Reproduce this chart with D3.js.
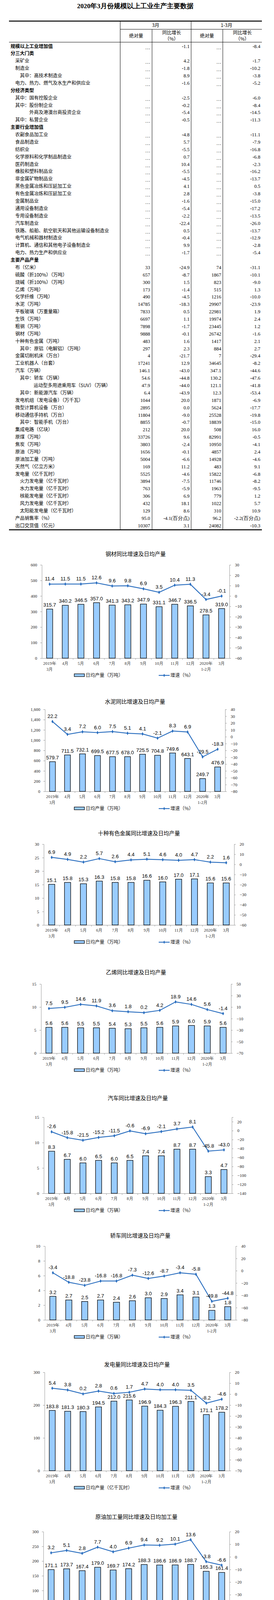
<!DOCTYPE html>
<html><head><meta charset="utf-8">
<script src="https://cdn.jsdelivr.net/npm/d3@7"></script>
<style>
body{margin:0;background:#fff;}
svg text{font-family:"Noto Sans CJK SC",sans-serif;}
.num{font-family:"Liberation Serif",serif;}
</style></head>
<body><svg id="c" width="701" height="4218"></svg>
<script>
// ---- table data ----
var tableRows = [
  // [label, level(0 bold), v1, g1, v2, g2]
  ['规模以上工业增加值',0,'…','-1.1','…','-8.4'],
  ['分三大门类',0,'','','',''],
  ['采矿业',1,'…','4.2','…','-1.7'],
  ['制造业',1,'…','-1.8','…','-10.2'],
  ['其中：高技术制造业',2,'…','8.9','…','-3.8'],
  ['电力、热力、燃气及水生产和供应业',1,'…','-1.6','…','-5.2'],
  ['分经济类型',0,'','','',''],
  ['其中：国有控股企业',1,'…','-2.5','…','-6.0'],
  ['其中：股份制企业',1,'…','-0.2','…','-8.4'],
  ['外商及港澳台商投资企业',3,'…','-5.4','…','-14.5'],
  ['其中：私营企业',1,'…','-0.5','…','-11.3'],
  ['主要行业增加值',0,'','','',''],
  ['农副食品加工业',1,'…','-4.8','…','-11.1'],
  ['食品制造业',1,'…','5.7','…','-7.9'],
  ['纺织业',1,'…','-5.5','…','-16.8'],
  ['化学原料和化学制品制造业',1,'…','0.7','…','-6.8'],
  ['医药制造业',1,'…','10.4','…','-2.3'],
  ['橡胶和塑料制品业',1,'…','-5.5','…','-16.2'],
  ['非金属矿物制品业',1,'…','-4.5','…','-13.7'],
  ['黑色金属冶炼和压延加工业',1,'…','4.1','…','0.5'],
  ['有色金属冶炼和压延加工业',1,'…','2.8','…','-3.8'],
  ['金属制品业',1,'…','-1.6','…','-15.0'],
  ['通用设备制造业',1,'…','-5.4','…','-17.2'],
  ['专用设备制造业',1,'…','-2.2','…','-13.5'],
  ['汽车制造业',1,'…','-22.4','…','-26.0'],
  ['铁路、船舶、航空航天和其他运输设备制造业',1,'…','0.5','…','-13.7'],
  ['电气机械和器材制造业',1,'…','-0.4','…','-12.9'],
  ['计算机、通信和其他电子设备制造业',1,'…','9.9','…','-2.8'],
  ['电力、热力生产和供应业',1,'…','-1.7','…','-5.4'],
  ['主要产品产量',0,'','','',''],
  ['布（亿米）',1,'33','-24.9','74','-31.1'],
  ['硫酸（折100%）（万吨）',1,'657','-8.7','1867','-10.1'],
  ['烧碱（折100%）（万吨）',1,'300','1.5','823','-9.0'],
  ['乙烯（万吨）',1,'173','-1.4','515','1.3'],
  ['化学纤维（万吨）',1,'490','-4.5','1216','-10.0'],
  ['水泥（万吨）',1,'14785','-18.3','29907','-23.9'],
  ['平板玻璃（万重量箱）',1,'7833','0.5','22981','1.9'],
  ['生铁（万吨）',1,'6697','1.1','19974','2.4'],
  ['粗钢（万吨）',1,'7898','-1.7','23445','1.2'],
  ['钢材（万吨）',1,'9888','-0.1','26742','-1.6'],
  ['十种有色金属（万吨）',1,'483','1.6','1417','2.1'],
  ['其中：原铝（电解铝）（万吨）',2,'297','2.3','884','2.7'],
  ['金属切削机床（万台）',1,'4','-21.7','7','-29.4'],
  ['工业机器人（台套）',1,'17241','12.9','34645','-8.2'],
  ['汽车（万辆）',1,'146.1','-43.0','347.1','-44.6'],
  ['其中：轿车（万辆）',2,'54.6','-44.8','130.2','-47.6'],
  ['运动型多用途乘用车（SUV）（万辆）',4,'47.9','-44.0','121.1','-41.8'],
  ['其中：新能源汽车（万辆）',2,'6.4','-43.9','12.3','-53.4'],
  ['发电机组（发电设备）（万千瓦）',1,'1044','20.0','1871','-6.9'],
  ['微型计算机设备（万台）',1,'2895','0.0','5624','-17.7'],
  ['移动通信手持机（万台）',1,'11804','-9.0','25528','-19.8'],
  ['其中：智能手机（万台）',2,'8855','-0.7','18839','-15.0'],
  ['集成电路（亿块）',1,'212','20.0','508','16.0'],
  ['原煤（万吨）',1,'33726','9.6','82991','-0.5'],
  ['焦炭（万吨）',1,'3803','-2.4','10950','-4.1'],
  ['原油（万吨）',1,'1656','-0.1','4857','2.4'],
  ['原油加工量（万吨）',1,'5004','-6.6','14928','-4.6'],
  ['天然气（亿立方米）',1,'169','11.2','483','9.1'],
  ['发电量（亿千瓦时）',1,'5525','-4.6','15822','-6.8'],
  ['火力发电量（亿千瓦时）',2,'3894','-7.5','11746','-8.2'],
  ['水力发电量（亿千瓦时）',2,'763','-5.9','1963','-9.5'],
  ['核能发电量（亿千瓦时）',2,'306','6.9','779','1.2'],
  ['风力发电量（亿千瓦时）',2,'432','18.1','1022','5.7'],
  ['太阳能发电量（亿千瓦时）',2,'129','8.6','310','10.9'],
  ['产品销售率（%）',1,'95.0','-4.1(百分点)','96.2','-2.2(百分点)'],
  ['出口交货值（亿元）',1,'10307','3.1','24082','-10.3']
];

// ---- chart data ----
var months = ['2019年|3月','4月','5月','6月','7月','8月','9月','10月','11月','12月','2020年|1-2月','3月'];
var steelDaily = [315.7,340.2,346.5,357.0,341.3,343.2,347.9,331.1,346.7,336.5,278.5,319.0];
var steelGrowth = [11.4,11.5,11.5,12.6,9.6,9.8,6.9,3.5,10.4,11.3,-3.4,-0.1];
var cementDaily = [579.7,711.5,732.1,699.5,677.5,678.0,725.5,704.8,749.6,643.1,249.7,476.9];
var cementGrowth = [22.2,3.4,7.2,6.0,7.5,5.1,4.1,-2.1,8.3,6.9,-29.5,-18.3];
var metalDaily = [15.1,15.8,15.3,16.3,15.8,15.8,16.6,16.0,17.0,17.1,15.6,15.6];
var metalGrowth = [6.9,4.9,2.2,5.7,2.6,4.4,5.1,4.6,4.0,4.7,2.2,1.6];
var ethyDaily = [5.6,5.6,5.5,5.5,5.4,5.3,5.5,5.6,5.9,6.0,5.9,5.6];
var ethyGrowth = [7.5,9.5,14.6,11.9,3.6,1.8,0.2,4.2,18.9,14.6,5.6,-1.4];
var carDaily = [8.3,6.7,6.0,6.5,6.0,6.5,7.4,7.4,8.7,8.7,3.3,4.7];
var carGrowth = [-2.6,-15.8,-21.5,-15.2,-11.5,-0.6,-6.9,-2.1,3.7,8.1,-45.8,-43.0];
var sedanDaily = [3.2,2.7,2.5,2.7,2.4,2.6,3.0,2.9,3.4,3.1,1.3,1.8];
var sedanGrowth = [-3.4,-18.8,-23.8,-16.8,-16.8,-7.3,-12.6,-8.7,-3.4,-5.8,-49.8,-44.8];
var powerDaily = [183.8,181.3,180.3,194.5,212.0,215.6,196.9,184.3,196.3,211.1,171.1,178.2];
var powerGrowth = [5.4,3.8,0.2,2.8,0.6,1.7,4.7,4.0,4.0,3.5,-8.2,-4.6];
var crudeDaily = [171.1,173.7,167.4,179.0,169.7,174.2,188.3,186.6,186.9,188.7,165.3,161.4];
var crudeGrowth = [3.2,5.1,2.8,7.7,4.0,6.9,9.4,9.2,10.1,13.6,-3.8,-6.6];

var svg = d3.select('#c');
svg.append('rect').attr('width',701).attr('height',4218).attr('fill','#fff');

// ---- table ----
svg.append('text').attr('x',346).attr('y',21).attr('text-anchor','middle')
  .attr('class','num').style('font-weight','bold').style('font-size','17px')
  .text('2020年3月份规模以上工业生产主要数据');

var cols = [23,307.5,389,489,570,670];
var rowTop = 108, pitch = 18.88;
var rowY = function (i) { return 118 + i * pitch; };
var tEnd = rowY(tableRows.length - 1) + 11;
svg.append('line').attr('x1',cols[0]).attr('x2',cols[5]).attr('y1',54).attr('y2',54).attr('stroke','#000').attr('stroke-width',2.5);
svg.append('line').attr('x1',cols[0]).attr('x2',cols[5]).attr('y1',tEnd).attr('y2',tEnd).attr('stroke','#000').attr('stroke-width',2.5);
svg.append('line').attr('x1',cols[0]).attr('x2',cols[5]).attr('y1',rowTop).attr('y2',rowTop).attr('stroke','#000').attr('stroke-width',1);
svg.append('line').attr('x1',cols[1]).attr('x2',cols[5]).attr('y1',75).attr('y2',75).attr('stroke','#000').attr('stroke-width',1);
[1,2,3,4].forEach(function (k) {
  svg.append('line').attr('x1',cols[k]).attr('x2',cols[k])
    .attr('y1',k === 2 || k === 4 ? 75 : 55).attr('y2',tEnd).attr('stroke','#000').attr('stroke-width',1);
});
function hdr(x, y, t) {
  svg.append('text').attr('x',x).attr('y',y).attr('text-anchor','middle').style('font-size','12px').text(t);
}
hdr((cols[1]+cols[3])/2, 69, '3月');
hdr((cols[3]+cols[5])/2, 69, '1-3月');
hdr((cols[1]+cols[2])/2, 96, '绝对量');
hdr((cols[3]+cols[4])/2, 96, '绝对量');
hdr((cols[2]+cols[3])/2, 88, '同比增长');
hdr((cols[2]+cols[3])/2, 104, '（%）');
hdr((cols[4]+cols[5])/2, 88, '同比增长');
hdr((cols[4]+cols[5])/2, 104, '（%）');

var indent = [27,39,51,0,75,86];
var rows = svg.append('g').selectAll('g').data(tableRows).enter().append('g')
  .attr('transform', function (d, i) { return 'translate(0,' + (rowY(i) + 4.5) + ')'; });
rows.append('text')
  .attr('x', function (d) { return d[1] === 3 ? 75 : d[1] === 4 ? 86 : indent[d[1]]; })
  .style('font-size','12px')
  .style('font-weight', function (d) { return d[1] === 0 ? 'bold' : 'normal'; })
  .text(function (d) { return d[0]; });
[[2,384],[3,485],[4,566],[5,666]].forEach(function (c) {
  rows.append('text').attr('class','num').attr('x',c[1]).attr('text-anchor','end')
    .style('font-size','12.5px').attr('dy', function (d) { return d[c[0]] === '…' ? 3 : 0; })
    .text(function (d) { return d[c[0]]; });
});

// ---- charts ----
var charts = [
  {title:'钢材同比增速及日均产量', bars:steelDaily, line:steelGrowth, unit:'日均产量（万吨）',
   ty:1417, x0:107, x1:587, y0:1446, y1:1685, l:[0,600,100], r:[-60,30,10]},
  {title:'水泥同比增速及日均产量', bars:cementDaily, line:cementGrowth, unit:'日均产量（万吨）',
   ty:1795, x0:115, x1:576, y0:1816, y1:2026, l:[0,1600,200], r:[-80,40,10]},
  {title:'十种有色金属同比增速及日均产量', bars:metalDaily, line:metalGrowth, unit:'日均产量（万吨）',
   ty:2132, x0:112, x1:599, y0:2161, y1:2368, l:[0,30,5], r:[-60,20,10]},
  {title:'乙烯同比增速及日均产量', bars:ethyDaily, line:ethyGrowth, unit:'日均产量（万吨）',
   ty:2488, x0:105, x1:591, y0:2519, y1:2696, l:[0,15,5], r:[-70,50,20]},
  {title:'汽车同比增速及日均产量', bars:carDaily, line:carGrowth, unit:'日均产量（万辆）',
   ty:2810, x0:112, x1:593, y0:2860, y1:3055, l:[0,15,5], r:[-140,30,20]},
  {title:'轿车同比增速及日均产量', bars:sedanDaily, line:sedanGrowth, unit:'日均产量（万辆）',
   ty:3162, x0:115, x1:603, y0:3190, y1:3379, l:[0,10,2], r:[-80,40,20]},
  {title:'发电量同比增速及日均产量', bars:powerDaily, line:powerGrowth, unit:'日均产量（亿千瓦时）',
   ty:3492, x0:114, x1:587, y0:3513, y1:3765, l:[0,300,100], r:[-70,20,10]},
  {title:'原油加工量同比增速及日均加工量', bars:crudeDaily, line:crudeGrowth, unit:'日均加工量（万吨）',
   ty:3882, x0:111, x1:587, y0:3921, y1:4147, l:[0,300,50], r:[-50,20,10]}
];

var blue = '#2a6ebf', barFill = '#99ccff';

charts.forEach(function (c) {
  var g = svg.append('g');
  g.append('text').attr('x',(c.x0 + c.x1) / 2).attr('y',c.ty + 6).attr('text-anchor','middle')
    .style('font-size','14px').text(c.title);
  var x = d3.scaleBand().domain(d3.range(12)).range([c.x0, c.x1]);
  var yl = d3.scaleLinear().domain([c.l[0], c.l[1]]).range([c.y1, c.y0]);
  var yr = d3.scaleLinear().domain([c.r[0], c.r[1]]).range([c.y1, c.y0]);

  var la = g.append('g').attr('transform','translate(' + c.x0 + ',0)')
    .call(d3.axisLeft(yl).tickValues(d3.range(c.l[0], c.l[1] + 0.001, c.l[2])).tickSize(4).tickPadding(8));
  var ra = g.append('g').attr('transform','translate(' + c.x1 + ',0)')
    .call(d3.axisRight(yr).tickValues(d3.range(c.r[0], c.r[1] + 0.001, c.r[2]).filter(function (v) { return v <= c.r[1] && (c.r[1] - v) % c.r[2] === 0 || v <= c.r[1] - 5; })).tickSize(4).tickPadding(10));
  var ba = g.append('g').attr('transform','translate(0,' + c.y1 + ')')
    .call(d3.axisBottom(x).tickSize(0).tickFormat(''));
  [la, ra, ba].forEach(function (a) {
    a.selectAll('path,line').attr('stroke','#999');
    a.selectAll('text').attr('class','num').style('font-size','11px').attr('fill','#222');
  });
  // category separators on bottom axis
  g.selectAll('.sep').data(d3.range(1, 12)).enter().append('line')
    .attr('x1', function (i) { return c.x0 + i * x.step(); }).attr('x2', function (i) { return c.x0 + i * x.step(); })
    .attr('y1', c.y1).attr('y2', c.y1 + 4).attr('stroke','#999');
  // x labels
  var xl = g.selectAll('.xl').data(months).enter().append('text').attr('class','num')
    .attr('x', function (d, i) { return x(i) + x.bandwidth() / 2; })
    .attr('y', c.y1 + 17).attr('text-anchor','middle').style('font-size','11px').attr('fill','#333');
  xl.each(function (d) {
    var parts = d.split('|'), t = d3.select(this);
    parts.forEach(function (p, k) {
      t.append('tspan').attr('x', t.attr('x')).attr('dy', k ? 15 : 0).text(p);
    });
  });

  var bw = x.bandwidth() * 0.39;
  g.selectAll('.bar').data(c.bars).enter().append('rect')
    .attr('x', function (d, i) { return x(i) + (x.bandwidth() - bw) / 2; })
    .attr('y', function (d) { return yl(d); })
    .attr('width', bw).attr('height', function (d) { return c.y1 - yl(d); })
    .attr('fill', barFill).attr('stroke','#000').attr('stroke-width',1.3);
  g.selectAll('.bl').data(c.bars).enter().append('text')
    .attr('x', function (d, i) { return x(i) + x.bandwidth() / 2; })
    .attr('y', function (d) { return yl(d) - 6; })
    .attr('text-anchor','middle').style('font-family','Liberation Sans, Arial').style('font-size','13px')
    .text(function (d) { return d.toFixed(1); });

  var line = d3.line().x(function (d, i) { return x(i) + x.bandwidth() / 2; }).y(function (d) { return yr(d); });
  g.append('path').datum(c.line).attr('d', line).attr('fill','none').attr('stroke',blue).attr('stroke-width',2.2);
  g.selectAll('.pt').data(c.line).enter().append('path')
    .attr('d', d3.symbol(d3.symbolDiamond, 24))
    .attr('transform', function (d, i) { return 'translate(' + (x(i) + x.bandwidth() / 2) + ',' + yr(d) + ')'; })
    .attr('fill', blue);
  g.selectAll('.ll').data(c.line).enter().append('text')
    .attr('x', function (d, i) { return x(i) + x.bandwidth() / 2; })
    .attr('y', function (d) { return yr(d) - 9; })
    .attr('text-anchor','middle').style('font-family','Liberation Sans, Arial').style('font-size','13px')
    .text(function (d) { return d.toFixed(1); });

  // legend
  var ly = c.y1 + 44;
  g.append('rect').attr('x',190).attr('y',ly - 4).attr('width',26).attr('height',7)
    .attr('fill',barFill).attr('stroke','#000').attr('stroke-width',1.3);
  g.append('text').attr('x',219).attr('y',ly + 4).style('font-size','12px').attr('fill','#222').text(c.unit);
  g.append('line').attr('x1',406).attr('x2',434).attr('y1',ly).attr('y2',ly).attr('stroke',blue).attr('stroke-width',2.2);
  g.append('path').attr('d', d3.symbol(d3.symbolDiamond, 20)).attr('transform','translate(420,' + ly + ')').attr('fill',blue);
  g.append('text').attr('x',436).attr('y',ly + 4).style('font-size','12px').attr('fill','#222').text('增速（%）');
});
</script></body></html>
